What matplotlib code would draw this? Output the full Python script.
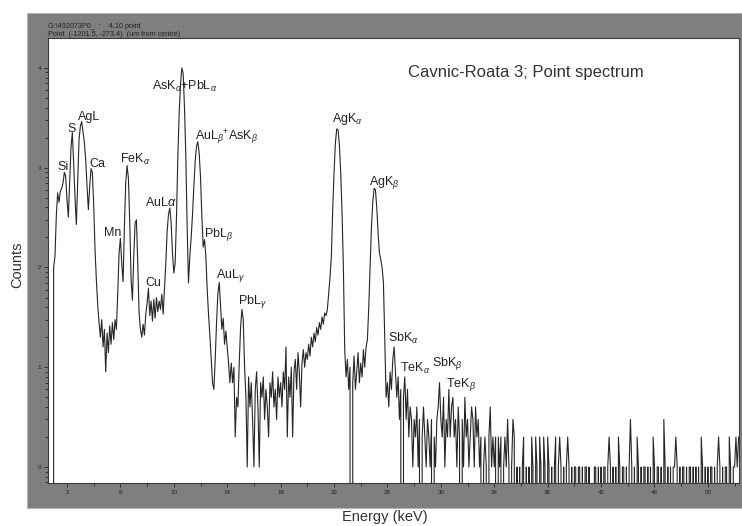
import numpy as np
import matplotlib
matplotlib.use("Agg")
import matplotlib.pyplot as plt
from matplotlib.patches import Rectangle
from matplotlib.ticker import FixedLocator, FuncFormatter, LogLocator, NullFormatter

plt.rcParams['font.family'] = ['Liberation Sans', 'DejaVu Sans']
plt.rcParams['mathtext.fontset'] = 'custom'
plt.rcParams['mathtext.rm'] = 'Liberation Sans'
plt.rcParams['mathtext.it'] = 'Liberation Sans:italic'

# channel calibration of the spectrum (keV)
channel_start_kev = 0.9
channel_width_kev = 0.1

# counts per channel, one row per keV
counts = [
    0,
    100, 130, 330, 560, 450, 580, 620, 700, 900, 820,
    480, 320, 700, 1600, 2250, 1100, 500, 270, 700, 1900,
    2600, 2900, 2300, 1800, 1200, 650, 380, 650, 980, 900,
    420, 150, 75, 42, 28, 20, 30, 16, 24, 9,
    22, 14, 26, 17, 28, 19, 30, 24, 55, 140,
    196, 110, 72, 260, 720, 1050, 780, 280, 75, 47,
    130, 280, 300, 110, 35, 24, 20, 27, 21, 34,
    44, 62, 33, 46, 29, 48, 31, 50, 36, 46,
    38, 54, 34, 60, 110, 230, 340, 395, 280, 140,
    88, 110, 320, 1250, 3500, 6800, 10000, 8800, 4000, 1300,
    250, 70, 130, 200, 340, 650, 1150, 1650, 1820, 1400,
    800, 330, 160, 190, 130, 60, 34, 21, 12, 7,
    6, 12, 28, 55, 71, 42, 24, 31, 17, 23,
    16, 11, 7, 11, 7, 10, 2, 5, 4, 11,
    25, 38, 30, 10, 5, 1, 8, 4, 7, 3,
    1, 6, 9, 4, 1, 7, 5, 8, 3, 6,
    4, 2, 7, 5, 9, 4, 6, 3, 8, 5,
    7, 4, 9, 6, 16, 2, 8, 5, 10, 2,
    9, 12, 6, 14, 9, 4, 11, 15, 10, 14,
    12, 17, 13, 20, 16, 22, 18, 25, 21, 28,
    24, 32, 27, 35, 33, 38, 55, 80, 130, 380,
    900, 1750, 2450, 2400, 1700, 900, 350, 100, 15, 8,
    12, 6, 10, 0, 7, 13, 6, 9, 14, 7,
    11, 8, 15, 10, 16, 19, 40, 100, 250, 450,
    620, 600, 400, 220, 140, 120, 100, 70, 18, 5,
    7, 4, 9, 6, 12, 16, 9, 5, 8, 3,
    6, 0, 5, 8, 3, 6, 2, 4, 3, 1,
    3, 2, 4, 1, 3, 0, 2, 4, 2, 1,
    3, 2, 1, 3, 0, 2, 1, 3, 4, 7,
    3, 2, 5, 1, 3, 2, 6, 2, 4, 5,
    2, 3, 1, 4, 2, 0, 3, 1, 5, 2,
    3, 1, 2, 4, 3, 1, 4, 2, 3, 1,
    2, 0, 1, 2, 1, 0, 2, 4, 1, 2,
    1, 2, 0, 2, 1, 2, 0, 1, 2, 1,
    3, 1, 0, 1, 3, 2, 0, 1, 0, 1,
    0, 1, 2, 0, 1, 0, 1, 0, 2, 1,
    0, 2, 1, 0, 2, 1, 0, 2, 1, 0,
    2, 1, 0, 1, 0, 1, 2, 0, 1, 2,
    1, 0, 1, 0, 1, 2, 1, 0, 1, 0,
    1, 1, 0, 1, 1, 0, 1, 0, 1, 1,
    0, 1, 0, 0, 0, 1, 1, 0, 1, 0,
    1, 0, 1, 1, 0, 1, 2, 1, 0, 1,
    0, 1, 0, 2, 1, 0, 1, 1, 0, 1,
    0, 1, 3, 1, 0, 1, 0, 2, 1, 0,
    1, 0, 1, 1, 0, 1, 0, 1, 0, 2,
    1, 0, 1, 1, 0, 1, 0, 3, 1, 0,
    1, 0, 1, 0, 1, 1, 2, 1, 0, 1,
    0, 1, 1, 0, 1, 0, 1, 1, 0, 1,
    0, 1, 0, 1, 0, 2, 1, 0, 1, 0,
    1, 0, 1, 1, 0, 1, 0, 1, 2, 1,
    0, 1, 0, 1, 1, 0, 2, 1, 0, 1,
    1, 2, 1, 2,
]

# peak identifications and where their labels sit (keV, counts)
peak_labels = [
    "Si", "S", "AgL", "Ca", "Mn", "FeK$_{\\alpha}$", "AuL$\\alpha$", "Cu",
    "AsK$_{\\alpha}$+PbL$_{\\alpha}$", "AuL$_{\\beta}$$^{+}$AsK$_{\\beta}$",
    "PbL$_{\\beta}$", "AuL$_{\\gamma}$", "PbL$_{\\gamma}$",
    "AgK$_{\\alpha}$", "AgK$_{\\beta}$", "SbK$_{\\alpha}$", "TeK$_{\\alpha}$",
    "SbK$_{\\beta}$", "TeK$_{\\beta}$",
]
label_kev = [1.25, 2.0, 2.82, 3.65, 4.77, 5.97, 7.84, 7.84,
             8.37, 11.58, 12.26, 13.16, 14.8,
             21.84, 24.61, 26.04, 26.93, 29.33, 30.38]
label_counts = [949, 2281, 3013, 1018, 207, 1116, 414, 65,
                6030, 1897, 202, 78, 43,
                2877, 671, 17.9, 8.96, 10.3, 6.3]

energy_ticks = [2, 6, 10, 14, 18, 22, 26, 30, 34, 38, 42, 46, 50]

W, H = 742, 526
fig = plt.figure(figsize=(W / 100, H / 100), dpi=100)
fig.patch.set_facecolor('white')

# grey instrument frame behind the plot
fig.patches.append(Rectangle((27 / W, 1 - 508 / H), (W - 27) / W, (508 - 13) / H,
                             transform=fig.transFigure, facecolor='#7f7f7f',
                             edgecolor='#b5b5b5', lw=0.8, zorder=-10))

ax = fig.add_axes([48 / W, 1 - 483 / H, (739 - 48) / W, (483 - 38) / H])
ax.set_facecolor('white')

energy = channel_start_kev + channel_width_kev * np.arange(len(counts))
ax.plot(energy, counts, color='#262626', lw=0.8)

ax.set_yscale('log', nonpositive='clip')
ax.set_xlim(0.577, 52.33)
ax.set_ylim(10 ** -0.16, 10 ** 4.30)

ax.xaxis.set_major_locator(FixedLocator(energy_ticks))
ax.xaxis.set_minor_locator(FixedLocator([t + 2 for t in energy_ticks]))
ax.yaxis.set_major_locator(LogLocator(base=10, numticks=10))
ax.yaxis.set_minor_locator(LogLocator(base=10, subs=np.arange(2, 10), numticks=50))
ax.yaxis.set_major_formatter(FuncFormatter(lambda v, p: f"{int(round(np.log10(v)))}"))
ax.yaxis.set_minor_formatter(NullFormatter())

ax.tick_params(which='both', direction='out', colors='#222222', labelsize=4.5,
               width=0.6, pad=2)
ax.tick_params(which='major', length=3)
ax.tick_params(which='minor', length=2)
for side in ax.spines.values():
    side.set_color('#3a3a3a')
    side.set_linewidth(0.8)

for txt, e, c in zip(peak_labels, label_kev, label_counts):
    ax.text(e, c, txt, fontsize=9, color='#222222', ha='left', va='baseline')

fig.text(408 / W, 1 - 73 / H, "Cavnic-Roata 3; Point spectrum", fontsize=12,
         color='#333333', ha='left', va='center')
fig.text(48 / W, 1 - 27 / H, "G:\\492073P0_  :    4.10 point", fontsize=5.2,
         color='#222222', ha='left', va='center')
fig.text(48 / W, 1 - 34 / H, "Point  (-1201.5, -273.4)  (um from centre)", fontsize=5.2,
         color='#222222', ha='left', va='center')

fig.text(17 / W, 1 - 265 / H, "Counts", rotation=90, fontsize=10.5,
         color='#333333', ha='center', va='center')
fig.text(385 / W, 1 - 517 / H, "Energy (keV)", fontsize=10.5,
         color='#333333', ha='center', va='center')

fig.savefig("out.png", dpi=100)
